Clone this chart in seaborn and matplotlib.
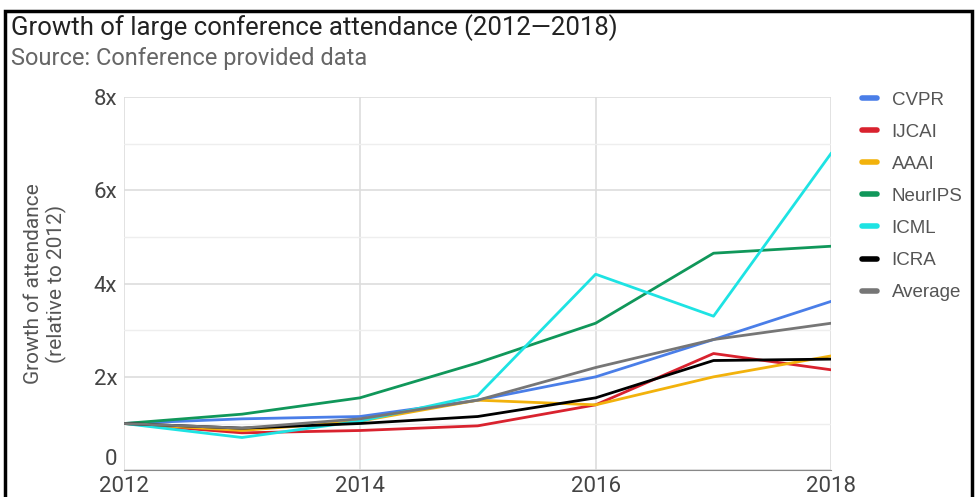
import numpy as np
import pandas as pd
import seaborn as sns
import matplotlib.pyplot as plt
from matplotlib.patches import Rectangle

years = [2012, 2013, 2014, 2015, 2016, 2017, 2018]
cvpr = [1.0, 1.1, 1.15, 1.5, 2.0, 2.8, 3.62]
ijcai = [1.0, 0.8, 0.85, 0.95, 1.4, 2.5, 2.15]
aaai = [1.0, 0.85, 1.05, 1.5, 1.4, 2.0, 2.45]
neurips = [1.0, 1.2, 1.55, 2.3, 3.15, 4.65, 4.8]
icml = [1.0, 0.7, 1.05, 1.6, 4.2, 3.3, 6.8]
icra = [1.0, 0.9, 1.0, 1.15, 1.55, 2.35, 2.38]
average = [1.0, 0.9, 1.1, 1.5, 2.2, 2.8, 3.15]

series_names = ["CVPR", "IJCAI", "AAAI", "NeurIPS", "ICML", "ICRA", "Average"]
series_values = [cvpr, ijcai, aaai, neurips, icml, icra, average]
colors = ["#4a7ee8", "#d9222e", "#f2b20c", "#10975a", "#1ee3e3", "#000000", "#767676"]

rows = []
for name, vals in zip(series_names, series_values):
    for y, v in zip(years, vals):
        rows.append({"year": y, "growth": v, "conf": name})
df = pd.DataFrame(rows)

sns.set_style("white")
plt.rcParams['font.family'] = ['Roboto', 'DejaVu Sans']

fig = plt.figure(figsize=(9.77, 4.97), dpi=100)
ax = fig.add_axes([0.127, 0.054, 0.724, 0.751])

sns.lineplot(data=df, x="year", y="growth", hue="conf", hue_order=series_names,
             palette=dict(zip(series_names, colors)), linewidth=2.0, ax=ax)

ax.set_xlim(2012, 2018)
ax.set_ylim(0, 8)
ax.set_xticks([2012, 2014, 2016, 2018])
ax.set_yticks([0, 2, 4, 6, 8])
ax.set_yticklabels(["0", "2x", "4x", "6x", "8x"])
ax.set_yticks([1, 3, 5, 7], minor=True)
ax.grid(True, which="major", color="#dddddd", linewidth=1.2)
ax.grid(True, which="minor", axis="y", color="#eeeeee", linewidth=1.0)
ax.tick_params(axis="both", which="both", length=0, labelsize=16, colors="#444444")
ax.tick_params(axis="x", pad=4)
ax.tick_params(axis="y", pad=5)
# the "0" label sits above the baseline in the original
ax.get_yticklabels()[0].set_va("bottom")
for s in ["top", "right", "left"]:
    ax.spines[s].set_visible(False)
ax.spines["bottom"].set_color("#888888")
ax.set_xlabel("")
ax.set_ylabel("Growth of attendance\n(relative to 2012)", fontsize=15, color="#555555",
              labelpad=19)

handles, labels = ax.get_legend_handles_labels()
for h in handles:
    h.set_linewidth(4)
leg = ax.legend(handles, labels, loc="upper left", bbox_to_anchor=(1.02, 1.06), frameon=False,
                prop={"family": "Liberation Sans", "size": 13.5}, handlelength=0.75,
                labelspacing=0.8, handletextpad=0.8)
for t in leg.get_texts():
    t.set_color("#555555")

fig.text(0.011, 0.945, "Growth of large conference attendance (2012\u20142018)", fontsize=18.5,
         color="#222222", va="center")
fig.text(0.011, 0.882, "Source: Conference provided data", fontsize=17, color="#666666",
         va="center")

fig.patches.append(Rectangle((0.005, -0.01), 0.99, 0.987, transform=fig.transFigure,
                             fill=False, edgecolor="black", linewidth=2.5))

fig.savefig("out.png", dpi=100)
